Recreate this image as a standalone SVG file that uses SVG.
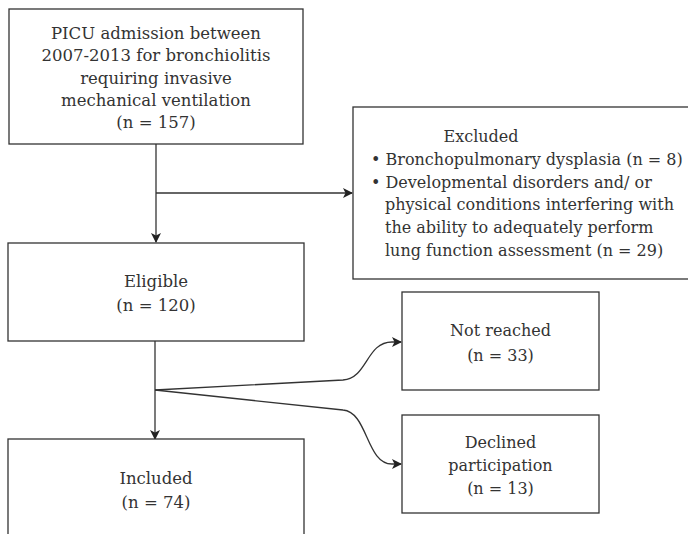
<svg xmlns="http://www.w3.org/2000/svg" width="688" height="534" viewBox="0 0 688 534">
<defs>
<style>
.box{fill:#fff;stroke:#333;stroke-width:1.3}
.t{font-family:"DejaVu Serif","Liberation Serif",serif;font-size:16px;fill:#333}
.big{font-size:16.5px}
.c{text-anchor:middle}
.edge{fill:none;stroke:#333;stroke-width:1.3}
</style>
<marker id="arr" viewBox="0 0 10 10" refX="9" refY="5" markerWidth="10" markerHeight="10" markerUnits="userSpaceOnUse" orient="auto">
<path d="M0,0 L10,5 L0,10 L2.5,5 Z" fill="#222"/>
</marker>
</defs>
<rect width="688" height="534" fill="#fff"/>
<g id="connectors">
<path class="edge" d="M156,144 L156,242" marker-end="url(#arr)"/>
<path class="edge" d="M156,193 L352,193" marker-end="url(#arr)"/>
<path class="edge" d="M155,341 L155,439" marker-end="url(#arr)"/>
<path class="edge" d="M155,390 L343,380 C368,378 366,342 392,342 L401,342" marker-end="url(#arr)"/>
<path class="edge" d="M155,390 L343,410 C368,412 366,464 392,464 L401,464" marker-end="url(#arr)"/>
</g>
<g id="n-admission">
<rect class="box" x="9" y="9" width="294" height="135"/>
<text class="t big c" x="156" y="39">PICU admission between</text>
<text class="t big c" x="156" y="61">2007-2013 for bronchiolitis</text>
<text class="t big c" x="156" y="83.5">requiring invasive</text>
<text class="t big c" x="156" y="106">mechanical ventilation</text>
<text class="t big c" x="156" y="128">(n = 157)</text>
</g>
<g id="n-excluded">
<rect class="box" x="353" y="107" width="340" height="172"/>
<text class="t c" x="481" y="142">Excluded</text>
<text class="t" x="371" y="165">• Bronchopulmonary dysplasia (n = 8)</text>
<text class="t" x="371" y="187.5">• Developmental disorders and/ or</text>
<text class="t" x="385" y="210">physical conditions interfering with</text>
<text class="t" x="385" y="233">the ability to adequately perform</text>
<text class="t" x="385" y="255.5">lung function assessment (n = 29)</text>
</g>
<g id="n-eligible">
<rect class="box" x="8" y="243" width="296" height="98"/>
<text class="t big c" x="156" y="287">Eligible</text>
<text class="t big c" x="156" y="311">(n = 120)</text>
</g>
<g id="n-included">
<rect class="box" x="8" y="439" width="296" height="110"/>
<text class="t big c" x="156" y="484">Included</text>
<text class="t big c" x="156" y="508">(n = 74)</text>
</g>
<g id="n-notreached">
<rect class="box" x="402" y="292" width="197" height="98"/>
<text class="t c" x="500.5" y="336">Not reached</text>
<text class="t c" x="500.5" y="360.5">(n = 33)</text>
</g>
<g id="n-declined">
<rect class="box" x="402" y="415" width="197" height="98"/>
<text class="t c" x="500.5" y="447.5">Declined</text>
<text class="t c" x="500.5" y="470.5">participation</text>
<text class="t c" x="500.5" y="494">(n = 13)</text>
</g>
</svg>
